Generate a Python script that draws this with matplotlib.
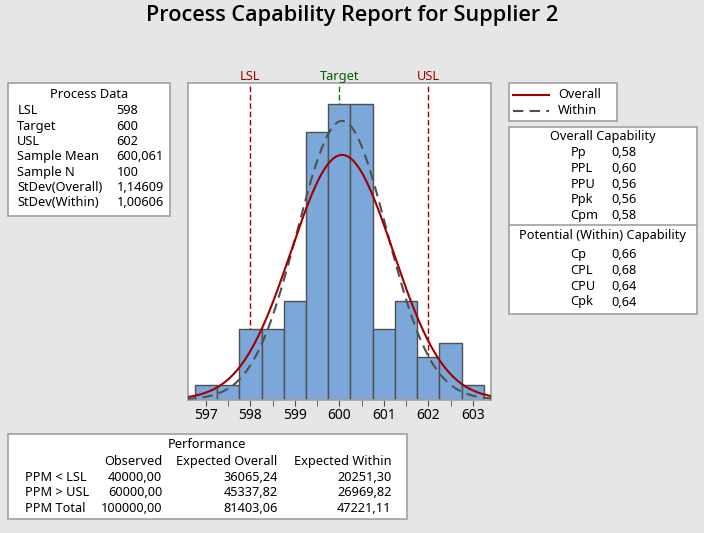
#! /usr/bin/env python3
import numpy as np
import matplotlib
matplotlib.use("Agg")
import matplotlib.pyplot as plt
from matplotlib.patches import Rectangle
from matplotlib.lines import Line2D

bin_centers = [597.0, 597.5, 598.0, 598.5, 599.0, 599.5, 600.0, 600.5, 601.0, 601.5, 602.0, 602.5, 603.0]
counts = [1, 1, 5, 5, 7, 19, 21, 21, 5, 7, 3, 4, 1]
bin_width = 0.5
lsl, target, usl = 598, 600, 602
mean = 600.061
n = 100
sd_overall = 1.14609
sd_within = 1.00606

process_labels = ["LSL", "Target", "USL", "Sample Mean", "Sample N", "StDev(Overall)", "StDev(Within)"]
process_values = ["598", "600", "602", "600,061", "100", "1,14609", "1,00606"]

overall_labels = ["Pp", "PPL", "PPU", "Ppk", "Cpm"]
overall_values = ["0,58", "0,60", "0,56", "0,56", "0,58"]
within_labels = ["Cp", "CPL", "CPU", "Cpk"]
within_values = ["0,66", "0,68", "0,64", "0,64"]

perf_rows = ["PPM < LSL", "PPM > USL", "PPM Total"]
perf_cols = ["Observed", "Expected Overall", "Expected Within"]
perf_observed = ["40000,00", "60000,00", "100000,00"]
perf_exp_overall = ["36065,24", "45337,82", "81403,06"]
perf_exp_within = ["20251,30", "26969,82", "47221,11"]

W, H = 704, 533
BG = "#E6E6E6"
BORDER = "#A0A0A0"
DARKRED = "#A00000"
FONT = "Noto Sans"
FS = 9.2

plt.rcParams["font.family"] = [FONT, "DejaVu Sans"]

fig = plt.figure(figsize=(W / 100, H / 100), dpi=100, facecolor=BG)

def fx(x):
    return x / W

def fy(y):
    return 1 - y / H

def box(x0, y0, x1, y1):
    fig.patches.append(Rectangle((fx(x0), fy(y1)), fx(x1) - fx(x0), fy(y0) - fy(y1),
                                 transform=fig.transFigure, facecolor="white",
                                 edgecolor=BORDER, linewidth=1.2, zorder=0))

def txt(x, y, s, ha="left", **kw):
    fig.text(fx(x), fy(y), s, ha=ha, va="center", fontsize=kw.pop("fontsize", FS), **kw)

fig.text(0.5, fy(16), "Process Capability Report for Supplier 2", ha="center", va="center",
         fontsize=15.6, fontweight="semibold", family=["Open Sans", "DejaVu Sans"])

# --- histogram ---
ax = fig.add_axes([fx(187.7), fy(399.5), fx(491) - fx(187.7), fy(83.3) - fy(399.5)])
ax.set_facecolor("white")
ax.bar(bin_centers, counts, width=bin_width, color="#7BA7D9", edgecolor="#505050", linewidth=1, zorder=2)

for v, c in [(lsl, DARKRED), (usl, DARKRED), (target, "#007A00")]:
    ax.axvline(v, color=c, linestyle=(0, (4, 2)), linewidth=1, zorder=1)

xs = np.linspace(596.55, 603.45, 400)
scale = n * bin_width
y_over = scale * np.exp(-0.5 * ((xs - mean) / sd_overall) ** 2) / (sd_overall * np.sqrt(2 * np.pi))
y_with = scale * np.exp(-0.5 * ((xs - mean) / sd_within) ** 2) / (sd_within * np.sqrt(2 * np.pi))
ax.plot(xs, y_with, color="#505050", linestyle=(0, (5, 3)), linewidth=1.5, zorder=3)
ax.plot(xs, y_over, color=DARKRED, linewidth=1.5, zorder=4)

ax.set_xlim(596.59, 603.41)
ax.set_ylim(0, 22.5)
ax.set_yticks([])
ax.set_xticks(range(597, 604))
ax.set_xticks(np.arange(597.5, 603, 1.0), minor=True)
ax.tick_params(axis="x", which="both", length=4, color="#505050", labelsize=10, pad=2)
for s in ax.spines.values():
    s.set_color(BORDER)
    s.set_linewidth(1.2)

for v, lab, c in [(lsl, "LSL", DARKRED), (target, "Target", "#006000"), (usl, "USL", DARKRED)]:
    ax.text(v, 1.0, lab, transform=ax.get_xaxis_transform(), ha="center", va="bottom",
            fontsize=FS, color=c)

# --- Process Data ---
box(8.3, 83.3, 170, 216)
txt(89, 94, "Process Data", ha="center")
for i, (lab, val) in enumerate(zip(process_labels, process_values)):
    y = 111 + i * 15.3
    txt(17.3, y, lab)
    txt(116.7, y, val)

# --- legend ---
box(509, 83.3, 617, 121)
fig.lines.append(Line2D([fx(513), fx(549)], [fy(95), fy(95)], color=DARKRED, linewidth=1.5,
                        transform=fig.transFigure))
fig.lines.append(Line2D([fx(513), fx(549)], [fy(110.7), fy(110.7)], color="#505050", linewidth=1.5,
                        linestyle=(0, (5, 3)), transform=fig.transFigure))
txt(558, 95, "Overall")
txt(558, 110.7, "Within")

# --- capability ---
box(509, 126.7, 696.7, 314.3)
fig.lines.append(Line2D([fx(509), fx(696.7)], [fy(225.3), fy(225.3)], color=BORDER, linewidth=1.2,
                        transform=fig.transFigure))
txt(602.7, 136.7, "Overall Capability", ha="center")
for i, (lab, val) in enumerate(zip(overall_labels, overall_values)):
    y = 152.7 + i * 15.7
    txt(570.3, y, lab)
    txt(611.7, y, val)
txt(602.7, 235.7, "Potential (Within) Capability", ha="center")
for i, (lab, val) in enumerate(zip(within_labels, within_values)):
    y = 254.3 + i * 15.9
    txt(570.3, y, lab)
    txt(611.7, y, val)

# --- performance ---
box(8.3, 434.3, 407.3, 518.7)
txt(207.3, 445, "Performance", ha="center")
col_right = [162.3, 277.7, 391.7]
for x, c in zip(col_right, perf_cols):
    txt(x, 461.7, c, ha="right")
for i, lab in enumerate(perf_rows):
    y = 477.7 + i * 15.3
    txt(25, y, lab)
    for x, vals in zip(col_right, [perf_observed, perf_exp_overall, perf_exp_within]):
        txt(x, y, vals[i], ha="right")

fig.savefig("out.png", dpi=100, facecolor=BG)
